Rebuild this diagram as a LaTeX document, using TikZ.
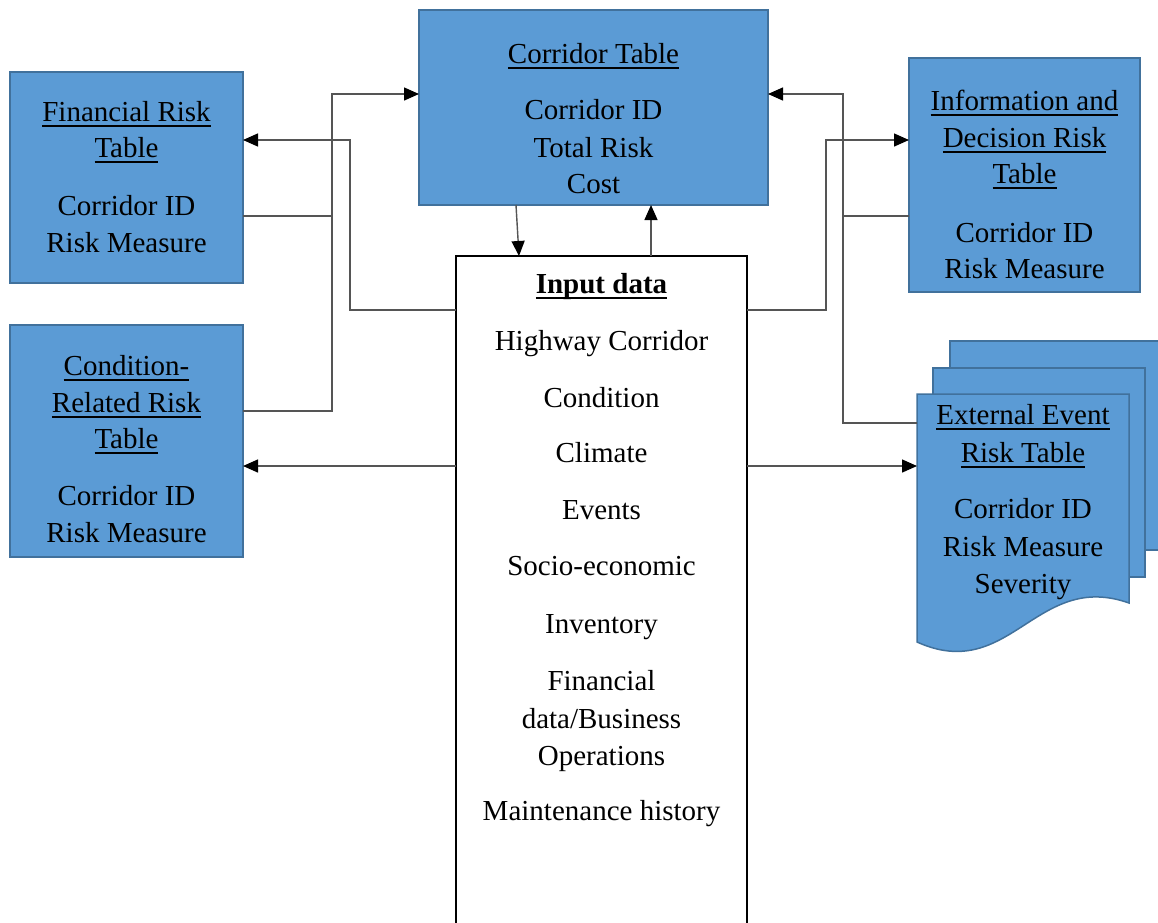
\documentclass[tikz,border=0pt]{standalone}
\usepackage{fontspec}
\setmainfont{Liberation Serif}
\usetikzlibrary{arrows.meta,calc}
\definecolor{boxfill}{HTML}{5B9BD5}
\definecolor{boxline}{HTML}{41719C}
\definecolor{wire}{HTML}{555555}
% underlined heading with a fixed rule position
\newcommand\ttl[1]{\setbox0=\hbox{#1}\rlap{\rule[-5.7pt]{\wd0}{2.2pt}}\box0}
\begin{document}
\begin{tikzpicture}[x=1pt,y=-1pt,
  tbl/.style={draw=boxline, fill=boxfill, line width=1.5pt, rectangle, inner sep=0pt, outer sep=0pt, anchor=north west},
  docpage/.style={draw=boxline, fill=boxfill, line width=1.5pt},
  txt/.style={anchor=base, inner sep=0pt, font=\fontsize{29}{37}\selectfont},
  conn/.style={draw=wire, line width=1.4pt},
  arr/.style={conn, -{Triangle[length=15pt,width=13pt,color=black]}}]

\useasboundingbox (0,0) rectangle (1158,922);

% tables
\node[tbl, minimum width=233pt, minimum height=211pt] (fin)  at (10,72)  {};
\node[tbl, minimum width=233pt, minimum height=232pt] (cond) at (10,325) {};
\node[tbl, minimum width=349pt, minimum height=195pt] (corr) at (419,10) {};
\node[tbl, minimum width=231pt, minimum height=234pt] (info) at (909,58) {};

% input data panel (runs past the lower edge)
\node[draw=black, fill=white, line width=1.6pt, anchor=north west, inner sep=0pt, outer sep=0pt,
      minimum width=291pt, minimum height=700pt] (inp) at (456,256) {};

% stacked document pages of the external event table
\node[anchor=north west, inner sep=0pt, outer sep=0pt, minimum width=212pt, minimum height=248pt] (ext) at (917,394) {};
\path[docpage] (950,341) rectangle (1175,550);
\path[docpage] (933,368) rectangle (1145,577);
\path[docpage] (ext.north west) -- (ext.north east) -- (1129,603)
  .. controls (1036,570) and (1010,684) .. (917,642) -- cycle;

% texts
\foreach \yy/\tt [count=\i] in {121/{\ttl{Financial Risk}}, 157/{\ttl{Table}}, 215/{Corridor ID}, 252/{Risk Measure}}
  \node[txt] (fin-\i) at (fin.north |- 0,\yy) {\tt};
\foreach \yy/\tt [count=\i] in {375/{\ttl{Condition-}}, 412/{\ttl{Related Risk}}, 448/{\ttl{Table}}, 505/{Corridor ID}, 542/{Risk Measure}}
  \node[txt] (cond-\i) at (cond.north |- 0,\yy) {\tt};
\foreach \yy/\tt [count=\i] in {63/{\ttl{Corridor Table}}, 119/{Corridor ID}, 157/{Total Risk}, 193/{Cost}}
  \node[txt] (corr-\i) at (corr.north |- 0,\yy) {\tt};
\foreach \yy/\tt [count=\i] in {110/{\ttl{Information and}}, 147/{\ttl{Decision Risk}}, 183/{\ttl{Table}}, 242/{Corridor ID}, 278/{Risk Measure}}
  \node[txt] (info-\i) at (info.north |- 0,\yy) {\tt};
\foreach \yy/\tt [count=\i] in {424/{\ttl{External Event}}, 462/{\ttl{Risk Table}}, 518/{Corridor ID}, 556/{Risk Measure}, 593/{Severity}}
  \node[txt] (ext-\i) at (ext.north |- 0,\yy) {\tt};
\foreach \yy/\tt [count=\i] in {293/{\ttl{\textbf{Input data}}}, 350/{Highway Corridor}, 407/{Condition}, 462/{Climate},
  519/{Events}, 575/{Socio-economic}, 633/{Inventory}, 690/{Financial}, 728/{data/Business}, 765/{Operations}, 820/{Maintenance history}}
  \node[txt] (inp-\i) at (inp.north |- 0,\yy) {\tt};

% junction points of the connectors
\coordinate (busL)    at (332,216);
\coordinate (busLtop) at (332,94);
\coordinate (busLbot) at (332,411);
\coordinate (jL)      at (350,310);
\coordinate (jLtop)   at (350,140);
\coordinate (busR)    at (843,216);
\coordinate (busRtop) at (843,94);
\coordinate (busRbot) at (843,423);
\coordinate (jR)      at (826,310);
\coordinate (jRtop)   at (826,140);
\coordinate (midrow)  at (600,466);

% left side
\draw[conn] (fin.east |- busL) -- (busL);
\draw[arr] (cond.east |- busLbot) -- (busLbot) -- (busLtop) -- (busLtop -| corr.west);
\draw[arr] (inp.west |- jL) -- (jL) -- (jLtop) -- (jLtop -| fin.east);
\draw[arr] (inp.west |- midrow) -- (midrow -| cond.east);

% right side
\draw[conn] (info.west |- busR) -- (busR);
\draw[arr] (ext.west |- busRbot) -- (busRbot) -- (busRtop) -- (busRtop -| corr.east);
\draw[arr] (inp.east |- jR) -- (jR) -- (jRtop) -- (jRtop -| info.west);
\draw[arr] (inp.east |- midrow) -- (midrow -| ext.west);

% corridor table and input data
\draw[arr] ($(corr.south west)+(97,0)$) -- ($(inp.north west)+(63,0)$);
\draw[arr] ($(inp.north west)+(195,0)$) -- ($(corr.south west)+(232,0)$);
\end{tikzpicture}
\end{document}
